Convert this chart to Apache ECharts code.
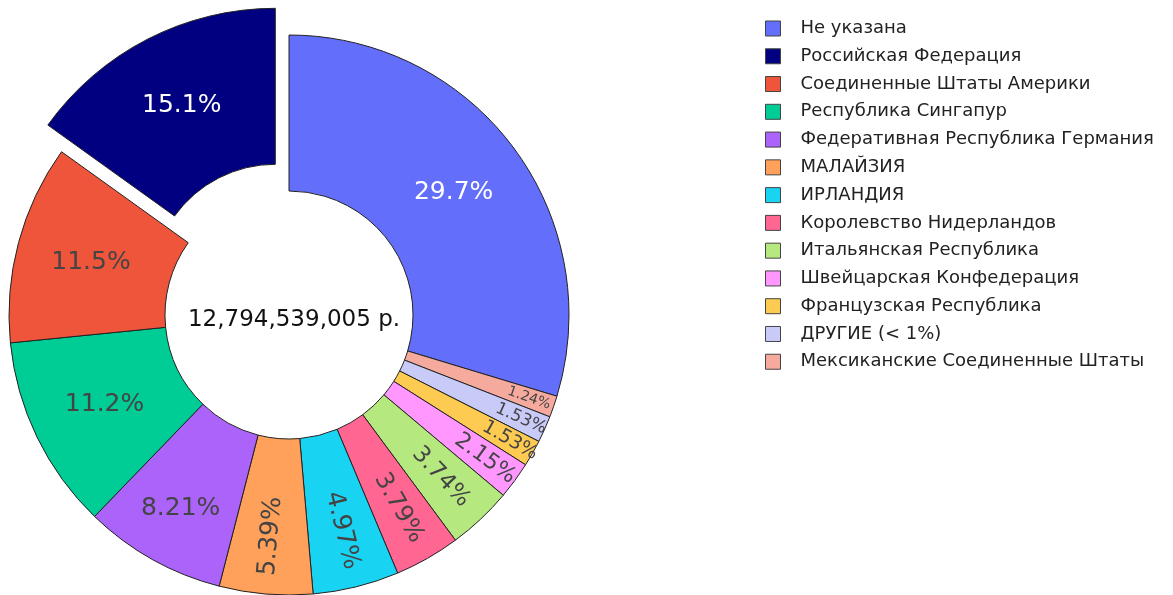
<!DOCTYPE html>
<html><head><meta charset="utf-8">
<script src="https://cdn.jsdelivr.net/npm/echarts@6/dist/echarts.min.js"></script>
<style>html,body{margin:0;padding:0;background:#fff}#c{width:1173px;height:595px}</style>
</head><body><div id="c"></div>
<script>
// Legend order
const names = [
  'Не указана','Российская Федерация','Соединенные Штаты Америки','Республика Сингапур',
  'Федеративная Республика Германия','МАЛАЙЗИЯ','ИРЛАНДИЯ','Королевство Нидерландов',
  'Итальянская Республика','Швейцарская Конфедерация','Французская Республика',
  'ДРУГИЕ (< 1%)','Мексиканские Соединенные Штаты'
];
const percents = [29.7, 15.1, 11.5, 11.2, 8.21, 5.39, 4.97, 3.79, 3.74, 2.15, 1.53, 1.53, 1.24];
const totalText = '12,794,539,005 р.';
const colors = ['#636EFA','#000080','#EF553B','#00CC96','#AB63FA','#FFA15A','#19D3F3',
  '#FF6692','#B6E880','#FF97FF','#FECB52','#C8CAF8','#F6AA9E'];
// label styling (not data)
const labelSize = [25,25,25,25,25,25,25,24,23,22,19,17,14];
const labelColor = ['#fff','#fff','#444','#444','#444','#444','#444','#444','#444','#444','#444','#444','#444'];
const pulled = 'Российская Федерация';

// clockwise drawing order starting at 12 o'clock
const order = [0].concat(names.map((_, i) => i).slice(1).reverse());

const CX = 289, CY = 315, R0 = 124, R = 280;
// inner radii of the label rings (label sits midway to R)
const ringInner = [R0, 158, 200, 222];
function group(i) {
  const p = percents[i];
  if (p >= 10) return 0;
  if (p >= 3) return 1;
  if (p >= 2) return 2;
  return 3;
}
function makeData(g) {
  return order.map(i => ({
    name: names[i],
    value: percents[i],
    selected: g === 0 && names[i] === pulled,
    itemStyle: g === 0 ? { color: colors[i] } : { color: 'rgba(0,0,0,0)', borderWidth: 0 },
    label: {
      show: group(i) === g,
      fontSize: labelSize[i],
      color: labelColor[i],
      rotate: percents[i] >= 6 ? 0 : 'radial'
    }
  }));
}
const baseLabel = {
  position: 'inside',
  fontFamily: 'DejaVu Sans',
  formatter: p => p.value + '%'
};
const series = ringInner.map((r0, g) => {
  const s = {
    type: 'pie',
    center: [CX, CY],
    radius: [r0, R],
    startAngle: 90,
    clockwise: true,
    avoidLabelOverlap: false,
    emphasis: { disabled: true },
    label: baseLabel,
    labelLine: { show: false },
    data: makeData(g)
  };
  if (g === 0) {
    s.selectedMode = 'single';
    s.selectedOffset = 30;
    s.itemStyle = { borderColor: '#222', borderWidth: 1 };
    s.select = { itemStyle: { borderColor: '#222', borderWidth: 1 } };
  } else {
    s.silent = true;
  }
  return s;
});
const chart = echarts.init(document.getElementById('c'), null, { renderer: 'canvas' });
chart.setOption({
  animation: false,
  title: {
    text: totalText,
    left: CX, top: CY,
    textAlign: 'center', textVerticalAlign: 'middle',
    textStyle: { fontFamily: 'DejaVu Sans', fontSize: 23, fontWeight: 'normal', color: '#111' }
  },
  legend: {
    orient: 'vertical',
    left: 765, top: 19.5,
    padding: 0,
    data: names,
    icon: 'rect',
    itemWidth: 15, itemHeight: 15,
    itemGap: 9.77,
    selectedMode: false,
    textStyle: { fontFamily: 'DejaVu Sans', fontSize: 18, color: '#222', padding: [0, 0, 0, 15], lineHeight: 18 },
    itemStyle: { borderColor: '#444', borderWidth: 1 }
  },
  series: series
});
</script></body></html>
